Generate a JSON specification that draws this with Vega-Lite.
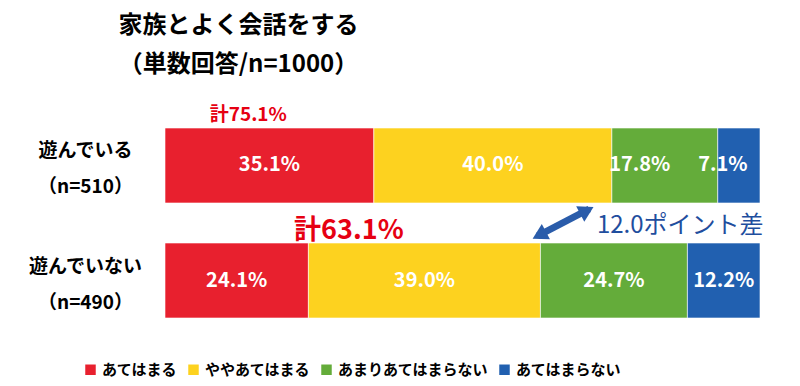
{
  "$schema": "https://vega.github.io/schema/vega-lite/v6.json",
  "width": 595,
  "height": 190,
  "autosize": {"type": "none"},
  "padding": {"left": 165, "top": 128, "right": 40, "bottom": 68},
  "background": "white",
  "config": {"font": "Noto Sans CJK JP", "view": {"stroke": null}},
  "title": {
    "text": ["家族とよく会話をする", "（単数回答/n=1000）"],
    "fontSize": 24,
    "fontWeight": "bold",
    "color": "#000000",
    "anchor": "middle",
    "frame": "group",
    "dx": -224,
    "lineHeight": 39,
    "offset": 29
  },
  "data": {
    "values": [
      {"group": "遊んでいる|（n=510）", "category": "あてはまる", "ord": 1, "value": 35.1},
      {"group": "遊んでいる|（n=510）", "category": "ややあてはまる", "ord": 2, "value": 40.0},
      {"group": "遊んでいる|（n=510）", "category": "あまりあてはまらない", "ord": 3, "value": 17.8},
      {"group": "遊んでいる|（n=510）", "category": "あてはまらない", "ord": 4, "value": 7.1},
      {"group": "遊んでいない|（n=490）", "category": "あてはまる", "ord": 1, "value": 24.1},
      {"group": "遊んでいない|（n=490）", "category": "ややあてはまる", "ord": 2, "value": 39.0},
      {"group": "遊んでいない|（n=490）", "category": "あまりあてはまらない", "ord": 3, "value": 24.7},
      {"group": "遊んでいない|（n=490）", "category": "あてはまらない", "ord": 4, "value": 12.2}
    ]
  },
  "layer": [
    {
      "transform": [
        {"stack": "value", "groupby": ["group"], "sort": [{"field": "ord"}], "as": ["v0", "v1"]}
      ],
      "mark": {"type": "bar", "stroke": "white", "strokeWidth": 0.6},
      "encoding": {
        "x": {"field": "v0", "type": "quantitative", "scale": {"domain": [0, 100], "nice": false}, "axis": null},
        "x2": {"field": "v1"},
        "y": {
          "field": "group",
          "type": "nominal",
          "scale": {"domain": ["遊んでいる|（n=510）", "遊んでいない|（n=490）"], "paddingInner": 0.348, "paddingOuter": 0},
          "axis": {
            "title": null,
            "domain": false,
            "ticks": false,
            "labelExpr": "split(datum.label, '|')",
            "labelFontSize": 19,
            "labelFontWeight": "bold",
            "labelColor": "#000000",
            "labelAlign": "center",
            "labelBaseline": "middle",
            "labelPadding": 80,
            "labelLineHeight": 36,
            "labelOffset": -14
          }
        },
        "color": {
          "field": "category",
          "type": "nominal",
          "scale": {
            "domain": ["あてはまる", "ややあてはまる", "あまりあてはまらない", "あてはまらない"],
            "range": ["#E8202E", "#FDD21F", "#64AC3A", "#2160B0"]
          },
          "legend": {
            "title": null,
            "orient": "none",
            "direction": "horizontal",
            "legendX": -82,
            "legendY": 234,
            "symbolType": "square",
            "symbolSize": 110,
            "symbolStrokeWidth": 0,
            "labelFontSize": 15,
            "labelFontWeight": "bold",
            "labelColor": "#000000",
            "labelOffset": 4,
            "columnPadding": 8
          }
        }
      }
    },
    {
      "transform": [
        {"stack": "value", "groupby": ["group"], "sort": [{"field": "ord"}], "as": ["v0", "v1"]},
        {"calculate": "(datum.v0 + datum.v1) / 2", "as": "mid"},
        {"calculate": "format(datum.value, '.1f') + '%'", "as": "label"},
        {"filter": "!(datum.group == '遊んでいる|（n=510）' && datum.ord >= 3)"}
      ],
      "mark": {"type": "text", "color": "white", "fontSize": 20, "fontWeight": "bold", "align": "center", "baseline": "middle"},
      "encoding": {
        "x": {"field": "mid", "type": "quantitative"},
        "y": {"field": "group", "type": "nominal"},
        "text": {"field": "label"}
      }
    },
    {
      "transform": [
        {"stack": "value", "groupby": ["group"], "sort": [{"field": "ord"}], "as": ["v0", "v1"]},
        {"calculate": "(datum.v0 + datum.v1) / 2", "as": "mid"},
        {"calculate": "format(datum.value, '.1f') + '%'", "as": "label"},
        {"filter": "datum.group == '遊んでいる|（n=510）' && datum.ord == 3"}
      ],
      "mark": {"type": "text", "color": "white", "fontSize": 20, "fontWeight": "bold", "align": "center", "baseline": "middle", "dx": -25},
      "encoding": {
        "x": {"field": "mid", "type": "quantitative"},
        "y": {"field": "group", "type": "nominal"},
        "text": {"field": "label"}
      }
    },
    {
      "transform": [
        {"stack": "value", "groupby": ["group"], "sort": [{"field": "ord"}], "as": ["v0", "v1"]},
        {"calculate": "(datum.v0 + datum.v1) / 2", "as": "mid"},
        {"calculate": "format(datum.value, '.1f') + '%'", "as": "label"},
        {"filter": "datum.group == '遊んでいる|（n=510）' && datum.ord == 4"}
      ],
      "mark": {"type": "text", "color": "white", "fontSize": 20, "fontWeight": "bold", "align": "center", "baseline": "middle", "dx": -16},
      "encoding": {
        "x": {"field": "mid", "type": "quantitative"},
        "y": {"field": "group", "type": "nominal"},
        "text": {"field": "label"}
      }
    },
    {
      "data": {"values": [{"note": "計75.1%"}]},
      "mark": {"type": "text", "color": "#E60012", "fontSize": 19, "fontWeight": "bold", "align": "center", "baseline": "middle", "dy": -50},
      "encoding": {
        "x": {"datum": 14.0, "type": "quantitative"},
        "y": {"datum": "遊んでいる|（n=510）", "type": "nominal"},
        "text": {"field": "note"}
      }
    },
    {
      "data": {"values": [{"note": "計63.1%"}]},
      "mark": {"type": "text", "color": "#E60012", "fontSize": 27, "fontWeight": "bold", "align": "center", "baseline": "middle", "dy": -50},
      "encoding": {
        "x": {"datum": 30.9, "type": "quantitative"},
        "y": {"datum": "遊んでいない|（n=490）", "type": "nominal"},
        "text": {"field": "note"}
      }
    },
    {
      "data": {"values": [{"note": "12.0ポイント差"}]},
      "mark": {"type": "text", "color": "#1F4E9E", "fontSize": 24, "fontWeight": "normal", "align": "center", "baseline": "middle", "dy": 61},
      "encoding": {
        "x": {"datum": 86.6, "type": "quantitative"},
        "y": {"datum": "遊んでいる|（n=510）", "type": "nominal"},
        "text": {"field": "note"}
      }
    },
    {
      "data": {"values": [{}]},
      "mark": {"type": "rule", "color": "#2A5CAA", "strokeWidth": 7},
      "encoding": {
        "x": {"datum": 62.6, "type": "quantitative"},
        "x2": {"datum": 71.3},
        "y": {"datum": "遊んでいる|（n=510）", "type": "nominal", "bandPosition": 1.44},
        "y2": {"datum": "遊んでいる|（n=510）", "bandPosition": 1.08}
      }
    },
    {
      "data": {"values": [{"a": 242}]},
      "mark": {"type": "point", "shape": "triangle-up", "filled": true, "color": "#2A5CAA", "size": 300, "opacity": 1},
      "encoding": {
        "x": {"datum": 62.9, "type": "quantitative"},
        "y": {"datum": "遊んでいる|（n=510）", "type": "nominal", "bandPosition": 1.43},
        "angle": {"field": "a", "type": "quantitative", "scale": null}
      }
    },
    {
      "data": {"values": [{"a": 62}]},
      "mark": {"type": "point", "shape": "triangle-up", "filled": true, "color": "#2A5CAA", "size": 300, "opacity": 1},
      "encoding": {
        "x": {"datum": 70.9, "type": "quantitative"},
        "y": {"datum": "遊んでいる|（n=510）", "type": "nominal", "bandPosition": 1.1},
        "angle": {"field": "a", "type": "quantitative", "scale": null}
      }
    }
  ]
}
